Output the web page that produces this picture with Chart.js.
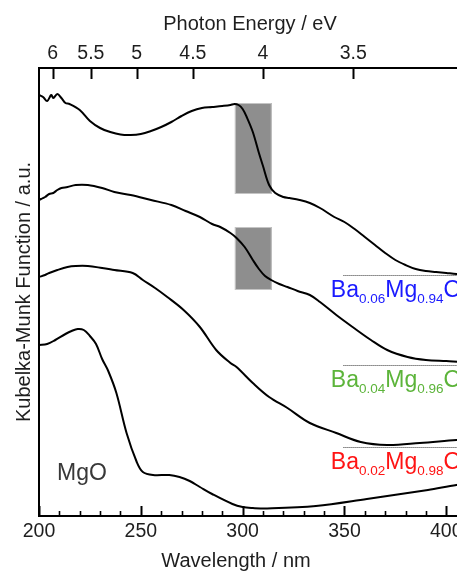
<!DOCTYPE html>
<html>
<head>
<meta charset="utf-8">
<script src="https://cdn.jsdelivr.net/npm/chart.js@4.4.1/dist/chart.umd.min.js"></script>
<style>
html, body { margin:0; padding:0; background:#fff; overflow:hidden; width:457px; height:573px; }
canvas { display:block; }
</style>
</head>
<body>
<canvas id="kmChart" width="487" height="573"></canvas>
<script>
// Kubelka-Munk spectra, curves offset vertically (a.u.)
const wlBa06 = [200,202,204,206,207,209,211,213,215,220,225,230,235,240,245,250,255,260,265,270,275,280,285,290,294,296,298,300,302,305,308,310,313,316,320,323,328,333,338,345,350,355,360,365,370,375,380,385,390,395,400,405,410,420];
const kmBa06 = [4.21,4.19,4.15,4.21,4.18,4.22,4.18,4.13,4.12,4.06,3.95,3.88,3.84,3.815,3.81,3.82,3.85,3.89,3.94,4.00,4.05,4.08,4.09,4.10,4.11,4.12,4.11,4.07,3.99,3.84,3.63,3.50,3.31,3.23,3.19,3.18,3.16,3.13,3.08,2.99,2.94,2.87,2.79,2.71,2.63,2.56,2.51,2.47,2.45,2.44,2.43,2.42,2.415,2.41];

const wlBa04 = [200,201,203,205,207,209,211,214,218,224,231,237,245,255,265,272,279,285,289,294,297,301,305,308,311,314,318,322,327,333,338,346,354,363,371,381,390,400,410,420];
const kmBa04 = [3.16,3.17,3.19,3.22,3.23,3.26,3.28,3.29,3.31,3.31,3.28,3.24,3.21,3.16,3.11,3.05,2.99,2.92,2.89,2.83,2.78,2.69,2.56,2.47,2.40,2.36,2.32,2.29,2.25,2.21,2.14,2.01,1.89,1.76,1.66,1.59,1.56,1.55,1.54,1.54];

const wlBa02 = [200,203,205,209,214,218,224,231,237,246,251,257,263,271,279,287,294,297,305,313,322,333,346,358,371,387,405,420];
const kmBa02 = [2.39,2.41,2.43,2.46,2.49,2.50,2.50,2.48,2.46,2.43,2.36,2.28,2.19,2.06,1.89,1.66,1.53,1.49,1.33,1.19,1.08,0.93,0.83,0.74,0.71,0.73,0.76,0.78];

const wlMgO = [200,204,208,213,216,219,222,225,228,231,234,238,243,248,251,256,264,269,274,279,285,295,300,305,312,336,361,391,405,420];
const kmMgO = [1.71,1.72,1.76,1.82,1.85,1.87,1.86,1.80,1.72,1.57,1.45,1.23,0.83,0.54,0.44,0.41,0.41,0.39,0.35,0.29,0.22,0.12,0.09,0.08,0.075,0.10,0.17,0.26,0.31,0.35];

// dotted baselines under the doped samples
const baseStart = 349.5;
const baseLevels = [2.405, 1.505, 0.685];

// grey bands (wavelength range, upper / lower a.u.)
const bandStart = 296.2;
const bandEnd = 314.3;
const bandHigh = [4.13, 2.89];
const bandLow = [3.22, 2.26];

// tick labels
const wlTicks = [200, 250, 300, 350, 400];
const energyTicks = [6, 5.5, 5, 4.5, 4, 3.5];

// sample labels
const sampleParts = [['Ba','0.06','Mg','0.94','O'], ['Ba','0.04','Mg','0.96','O'], ['Ba','0.02','Mg','0.98','O']];
const sampleColors = ['#1a1aff', '#5cb43a', '#ff1414'];

const FONT = '"Liberation Sans", Arial, sans-serif';
Chart.defaults.font.family = FONT;

function pts(xs, ys) {
    return xs.map((v, i) => ({x: v, y: ys[i]}));
}

const decor = {
    id: 'decor',
    beforeDatasetsDraw(chart) {
        const ctx = chart.ctx;
        const x = chart.scales.x, y = chart.scales.y;
        ctx.save();
        for (let i = 0; i < bandHigh.length; i++) {
            const x0 = x.getPixelForValue(bandStart), x1 = x.getPixelForValue(bandEnd);
            const y0 = y.getPixelForValue(bandHigh[i]), y1 = y.getPixelForValue(bandLow[i]);
            ctx.fillStyle = '#8e8e8e';
            ctx.fillRect(x0, y0, x1 - x0, y1 - y0);
            ctx.strokeStyle = '#c4c4c4';
            ctx.lineWidth = 1;
            ctx.strokeRect(x0 + 0.5, y0 + 0.5, x1 - x0 - 1, y1 - y0 - 1);
        }
        ctx.restore();
    },
    afterDraw(chart) {
        const ctx = chart.ctx;
        const x = chart.scales.x, y = chart.scales.y;
        const area = chart.chartArea;
        ctx.save();
        ctx.strokeStyle = '#000';
        // bottom ticks, pointing in
        for (let v = 200; v <= 420; v += 10) {
            const px = Math.round(x.getPixelForValue(v)) + 0.5;
            const major = v % 50 === 0;
            ctx.lineWidth = major ? 2 : 1.6;
            ctx.beginPath();
            ctx.moveTo(px, area.bottom);
            ctx.lineTo(px, area.bottom - (major ? 10 : 5));
            ctx.stroke();
        }
        // top ticks (photon energy)
        ctx.lineWidth = 2;
        energyTicks.forEach(e => {
            const px = Math.round(x.getPixelForValue(1240 / e)) + 0.5;
            ctx.beginPath();
            ctx.moveTo(px, area.top);
            ctx.lineTo(px, area.top + 11);
            ctx.stroke();
        });

        // axis titles
        ctx.fillStyle = '#1e1e1e';
        ctx.font = '20px ' + FONT;
        ctx.textAlign = 'center';
        ctx.textBaseline = 'alphabetic';
        ctx.fillText('Wavelength / nm', 236, 567);
        ctx.fillText('Photon Energy / eV', 250, 30);
        ctx.save();
        ctx.translate(29.5, 292);
        ctx.rotate(-Math.PI / 2);
        ctx.fillText('Kubelka-Munk Function / a.u.', 0, 0);
        ctx.restore();

        // sample labels
        ctx.textAlign = 'left';
        const labelX = x.getPixelForValue(343.3);
        const baselines = [2.19, 1.29, 0.47];
        sampleParts.forEach((parts, k) => {
            let px = labelX;
            const py = y.getPixelForValue(baselines[k]);
            ctx.fillStyle = sampleColors[k];
            parts.forEach((p, j) => {
                const sub = j % 2 === 1;
                ctx.font = (sub ? '13.5px ' : '23px ') + FONT;
                ctx.fillText(p, px, sub ? py + 6 : py);
                px += ctx.measureText(p).width;
            });
        });
        ctx.fillStyle = '#383838';
        ctx.font = '23px ' + FONT;
        ctx.fillText('MgO', 57, 480);
        ctx.restore();
    }
};

const lineStyle = {
    borderColor: '#000',
    borderWidth: 2,
    pointRadius: 0,
    tension: 0.35,
    fill: false
};

const datasets = [
    Object.assign({label: 'Ba0.06Mg0.94O', data: pts(wlBa06, kmBa06)}, lineStyle),
    Object.assign({label: 'Ba0.04Mg0.96O', data: pts(wlBa04, kmBa04)}, lineStyle),
    Object.assign({label: 'Ba0.02Mg0.98O', data: pts(wlBa02, kmBa02)}, lineStyle),
    Object.assign({label: 'MgO', data: pts(wlMgO, kmMgO)}, lineStyle)
];
baseLevels.forEach(level => {
    datasets.push({
        label: 'baseline',
        data: [{x: baseStart, y: level}, {x: 420, y: level}],
        borderColor: '#333',
        borderWidth: 1,
        borderDash: [1, 1],
        pointRadius: 0,
        fill: false
    });
});

new Chart(document.getElementById('kmChart').getContext('2d'), {
    type: 'line',
    data: { datasets: datasets },
    options: {
        responsive: false,
        animation: false,
        plugins: { legend: {display: false}, tooltip: {enabled: false} },
        layout: { padding: 0 },
        scales: {
            x: {
                type: 'linear', position: 'bottom', min: 200, max: 420,
                afterFit(s) { s.height = 57; },
                afterBuildTicks(s) { s.ticks = wlTicks.map(v => ({value: v})); },
                grid: {display: false, drawTicks: false},
                border: {display: true, color: '#000', width: 2},
                ticks: {color: '#1e1e1e', font: {size: 19.5}, padding: 4, autoSkip: false, maxRotation: 0}
            },
            xTop: {
                type: 'linear', position: 'top', min: 200, max: 420,
                afterFit(s) { s.height = 68; },
                afterBuildTicks(s) { s.ticks = energyTicks.map(e => ({value: 1240 / e})); },
                grid: {display: false, drawTicks: false},
                border: {display: true, color: '#000', width: 2},
                ticks: {
                    color: '#1e1e1e', font: {size: 19.5}, padding: 3, autoSkip: false, maxRotation: 0,
                    callback: (v, i) => String(energyTicks[i])
                }
            },
            y: {
                min: 0, max: 4.48,
                afterFit(s) { s.width = 39; },
                grid: {display: false, drawTicks: false},
                border: {display: true, color: '#000', width: 2},
                ticks: {display: false}
            }
        }
    },
    plugins: [decor]
});
</script>
</body>
</html>
